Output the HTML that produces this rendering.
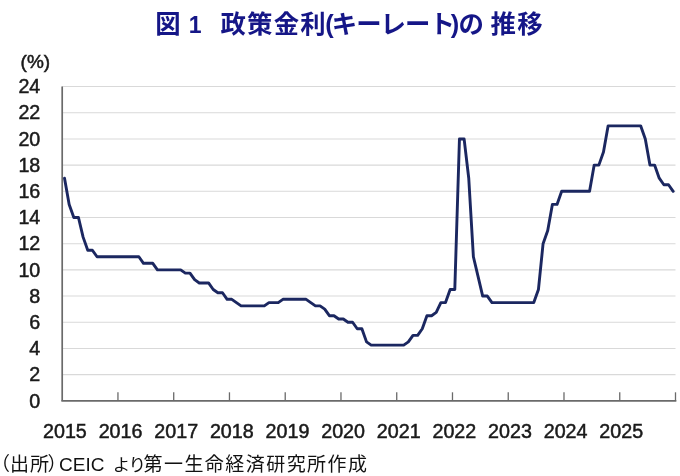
<!DOCTYPE html>
<html lang="ja">
<head>
<meta charset="utf-8">
<title>図1 政策金利(キーレート)の推移</title>
<style>
html,body{margin:0;padding:0;background:#fff;}
body{width:680px;height:476px;overflow:hidden;position:relative;}
svg{position:absolute;left:0;top:0;display:block;}
.title{font-family:"Liberation Sans","Noto Sans CJK JP",sans-serif;font-weight:bold;font-size:25.4px;fill:#151687;letter-spacing:1.27px;}
.t1{font-size:23px;}
.kana{letter-spacing:-0.93px;}
.num{font-family:"Liberation Sans",sans-serif;font-size:19.7px;fill:#1a1a1a;stroke:#1a1a1a;stroke-width:0.5px;}
.src{font-family:"Liberation Sans","Noto Sans CJK JP",sans-serif;font-size:19px;fill:#111;letter-spacing:1px;}
.lat{font-size:19px;letter-spacing:0;}
.tail{letter-spacing:1.45px;}
.kn{font-size:17.5px;}
.grid line{stroke:#d9d9d9;stroke-width:1.05;}
.axis line{stroke:#6a6a6a;stroke-width:1.7;}
.axis line.tk{stroke-width:1.3;}
</style>
</head>
<body>
<svg width="680" height="476" viewBox="0 0 680 476">
<rect width="680" height="476" fill="#ffffff"/>
<text class="title" y="33.2"><tspan x="155.2">図</tspan><tspan class="t1" x="188.8">1</tspan><tspan x="220.4" class="kj">政策金利</tspan><tspan x="325.3">(</tspan><tspan x="331.7" class="kana">キーレート</tspan><tspan x="450.8">)</tspan><tspan x="458.6">の</tspan><tspan x="490.6">推移</tspan></text>
<g class="grid">
<line x1="62.2" x2="675.5" y1="374.61" y2="374.61"/>
<line x1="62.2" x2="675.5" y1="348.43" y2="348.43"/>
<line x1="62.2" x2="675.5" y1="322.24" y2="322.24"/>
<line x1="62.2" x2="675.5" y1="296.05" y2="296.05"/>
<line x1="62.2" x2="675.5" y1="269.86" y2="269.86"/>
<line x1="62.2" x2="675.5" y1="243.68" y2="243.68"/>
<line x1="62.2" x2="675.5" y1="217.49" y2="217.49"/>
<line x1="62.2" x2="675.5" y1="191.30" y2="191.30"/>
<line x1="62.2" x2="675.5" y1="165.11" y2="165.11"/>
<line x1="62.2" x2="675.5" y1="138.93" y2="138.93"/>
<line x1="62.2" x2="675.5" y1="112.74" y2="112.74"/>
<line x1="62.2" x2="675.5" y1="86.55" y2="86.55"/>
</g>
<g class="axis">
<line x1="62.2" x2="62.2" y1="86.55" y2="400.8"/>
<line x1="61.35" x2="676.35" y1="400.8" y2="400.8"/>
<line class="tk" x1="117.95" x2="117.95" y1="392.30" y2="400.8"/>
<line class="tk" x1="173.71" x2="173.71" y1="392.30" y2="400.8"/>
<line class="tk" x1="229.46" x2="229.46" y1="392.30" y2="400.8"/>
<line class="tk" x1="285.22" x2="285.22" y1="392.30" y2="400.8"/>
<line class="tk" x1="340.97" x2="340.97" y1="392.30" y2="400.8"/>
<line class="tk" x1="396.73" x2="396.73" y1="392.30" y2="400.8"/>
<line class="tk" x1="452.48" x2="452.48" y1="392.30" y2="400.8"/>
<line class="tk" x1="508.24" x2="508.24" y1="392.30" y2="400.8"/>
<line class="tk" x1="563.99" x2="563.99" y1="392.30" y2="400.8"/>
<line class="tk" x1="619.75" x2="619.75" y1="392.30" y2="400.8"/>
<line class="tk" x1="675.50" x2="675.50" y1="392.30" y2="400.8"/>
</g>
<path d="M64.52,178.21 L69.17,204.39 L73.82,217.49 L78.46,217.49 L83.11,237.13 L87.75,250.22 L92.40,250.22 L97.05,256.77 L101.69,256.77 L106.34,256.77 L110.99,256.77 L115.63,256.77 L120.28,256.77 L124.92,256.77 L129.57,256.77 L134.22,256.77 L138.86,256.77 L143.51,263.32 L148.15,263.32 L152.80,263.32 L157.45,269.86 L162.09,269.86 L166.74,269.86 L171.39,269.86 L176.03,269.86 L180.68,269.86 L185.32,273.14 L189.97,273.14 L194.62,279.68 L199.26,282.96 L203.91,282.96 L208.56,282.96 L213.20,289.50 L217.85,292.78 L222.49,292.78 L227.14,299.32 L231.79,299.32 L236.43,302.60 L241.08,305.87 L245.73,305.87 L250.37,305.87 L255.02,305.87 L259.66,305.87 L264.31,305.87 L268.96,302.60 L273.60,302.60 L278.25,302.60 L282.90,299.32 L287.54,299.32 L292.19,299.32 L296.83,299.32 L301.48,299.32 L306.13,299.32 L310.77,302.60 L315.42,305.87 L320.06,305.87 L324.71,309.14 L329.36,315.69 L334.00,315.69 L338.65,318.96 L343.30,318.96 L347.94,322.24 L352.59,322.24 L357.23,328.78 L361.88,328.78 L366.53,341.88 L371.17,345.15 L375.82,345.15 L380.47,345.15 L385.11,345.15 L389.76,345.15 L394.40,345.15 L399.05,345.15 L403.70,345.15 L408.34,341.88 L412.99,335.33 L417.64,335.33 L422.28,328.78 L426.93,315.69 L431.57,315.69 L436.22,312.42 L440.87,302.60 L445.51,302.60 L450.16,289.50 L454.80,289.50 L459.45,138.93 L464.10,138.93 L468.74,178.21 L473.39,256.77 L478.04,276.41 L482.68,296.05 L487.33,296.05 L491.97,302.60 L496.62,302.60 L501.27,302.60 L505.91,302.60 L510.56,302.60 L515.21,302.60 L519.85,302.60 L524.50,302.60 L529.14,302.60 L533.79,302.60 L538.44,289.50 L543.08,243.68 L547.73,230.58 L552.38,204.39 L557.02,204.39 L561.67,191.30 L566.31,191.30 L570.96,191.30 L575.61,191.30 L580.25,191.30 L584.90,191.30 L589.55,191.30 L594.19,165.11 L598.84,165.11 L603.48,152.02 L608.13,125.83 L612.78,125.83 L617.42,125.83 L622.07,125.83 L626.71,125.83 L631.36,125.83 L636.01,125.83 L640.65,125.83 L645.30,138.93 L649.95,165.11 L654.59,165.11 L659.24,178.21 L663.88,184.75 L668.53,184.75 L673.18,191.30" fill="none" stroke="#1b2760" stroke-width="2.9" stroke-linejoin="round" stroke-linecap="round"/>
<g class="num">
<text x="20.6" y="68.3" style="font-size:19px">(%)</text>
<text x="40.3" y="407.50" text-anchor="end">0</text>
<text x="40.3" y="381.31" text-anchor="end">2</text>
<text x="40.3" y="355.12" text-anchor="end">4</text>
<text x="40.3" y="328.94" text-anchor="end">6</text>
<text x="40.3" y="302.75" text-anchor="end">8</text>
<text x="40.3" y="276.56" text-anchor="end">10</text>
<text x="40.3" y="250.38" text-anchor="end">12</text>
<text x="40.3" y="224.19" text-anchor="end">14</text>
<text x="40.3" y="198.00" text-anchor="end">16</text>
<text x="40.3" y="171.81" text-anchor="end">18</text>
<text x="40.3" y="145.62" text-anchor="end">20</text>
<text x="40.3" y="119.44" text-anchor="end">22</text>
<text x="40.3" y="93.25" text-anchor="end">24</text>
<text x="64.92" y="437.8" text-anchor="middle">2015</text>
<text x="120.56" y="437.8" text-anchor="middle">2016</text>
<text x="176.19" y="437.8" text-anchor="middle">2017</text>
<text x="231.83" y="437.8" text-anchor="middle">2018</text>
<text x="287.46" y="437.8" text-anchor="middle">2019</text>
<text x="343.10" y="437.8" text-anchor="middle">2020</text>
<text x="398.73" y="437.8" text-anchor="middle">2021</text>
<text x="454.36" y="437.8" text-anchor="middle">2022</text>
<text x="510.00" y="437.8" text-anchor="middle">2023</text>
<text x="565.63" y="437.8" text-anchor="middle">2024</text>
<text x="621.27" y="437.8" text-anchor="middle">2025</text>
</g>
<text class="src" y="471.4"><tspan x="-9">（</tspan><tspan x="10">出所</tspan><tspan x="47.5">）</tspan><tspan x="59" class="lat">CEIC</tspan><tspan x="112.8" class="kn">よ</tspan><tspan x="128.5" class="kn">り</tspan><tspan x="143.5" class="tail">第一生命経済研究所作成</tspan></text>
</svg>
</body>
</html>
